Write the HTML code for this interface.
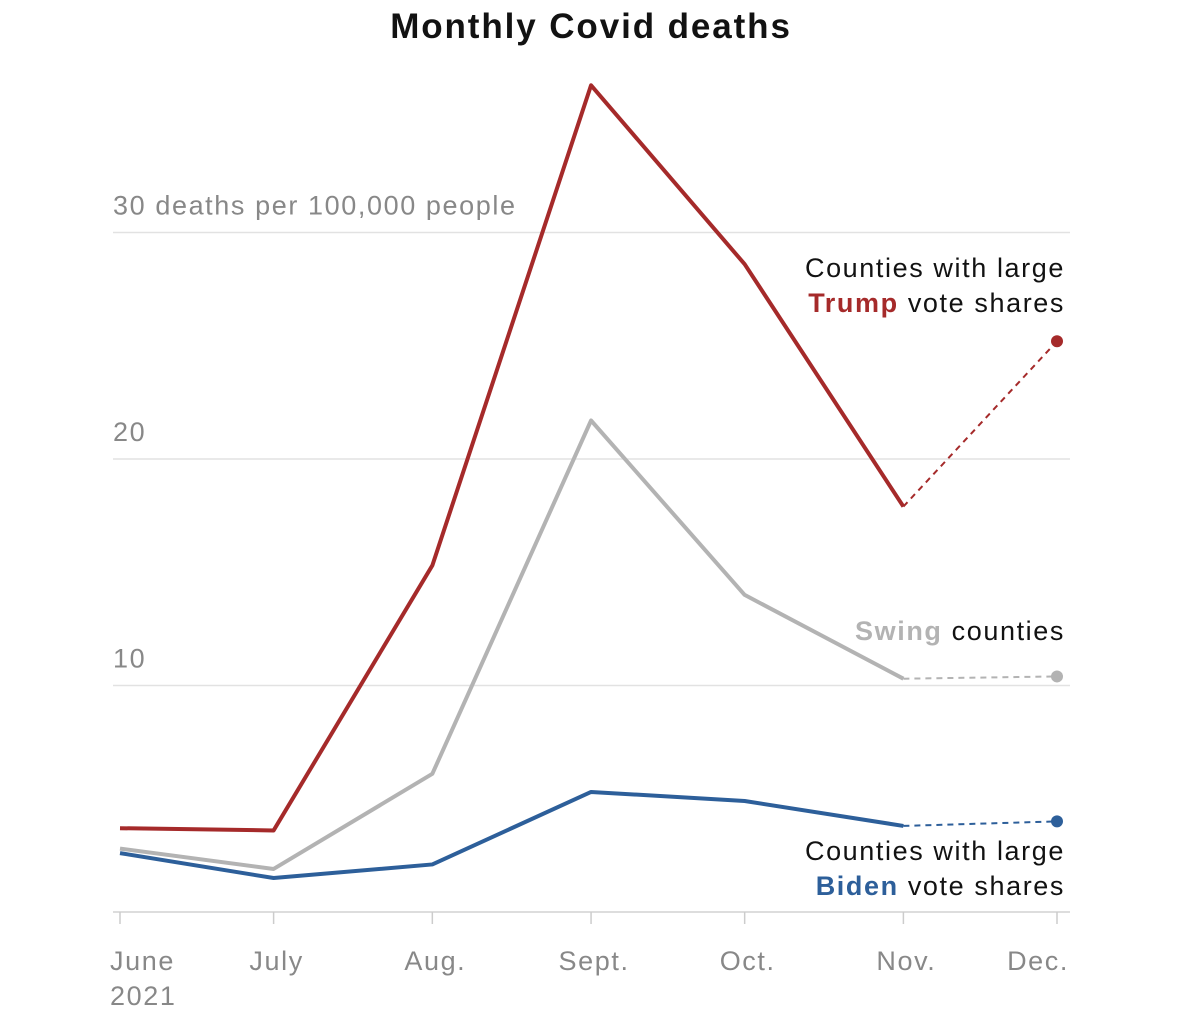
<!DOCTYPE html>
<html><head><meta charset="utf-8"><style>
body{margin:0;background:#fff;}
svg{display:block;font-family:"Liberation Sans",sans-serif;}
</style></head><body>
<svg id="chart" width="1200" height="1034">
<text x="591" y="38" text-anchor="middle" font-size="35" font-weight="bold" fill="#121212" letter-spacing="1.9">Monthly Covid deaths</text>
<g id="grid"></g><g id="lines"></g><g id="labels"></g>
</svg>
<script>
const months=["June","July","Aug.","Sept.","Oct.","Nov.","Dec."];
const monthDay=[0,30,61,92,122,153,183];
const trump=[3.7,3.6,15.3,36.5,28.6,17.9,25.2];
const swing=[2.8,1.9,6.1,21.7,14.0,10.3,10.4];
const biden=[2.6,1.5,2.1,5.3,4.9,3.8,4.0];
const yTicks=[10,20,30];
const NS="http://www.w3.org/2000/svg";
const xs=i=>120+monthDay[i]*(1057-120)/183;
const ys=v=>912-v*22.65;
const LS=1.6;
function mk(tag,attrs,parent,text){const e=document.createElementNS(NS,tag);for(const k in attrs)e.setAttribute(k,attrs[k]);if(text!==undefined)e.textContent=text;parent.appendChild(e);return e;}
const grid=document.getElementById('grid'),lines=document.getElementById('lines');
let base=mk('line',{x1:113,x2:1070,y1:ys(0),y2:ys(0),stroke:'#ddd','stroke-width':2},grid);


yTicks.forEach((t,k)=>{
 let l=mk('line',{x1:113,x2:1070,y1:ys(t),y2:ys(t),stroke:'#e2e2e2','stroke-width':1.5},grid);
 
 
 let tx=mk('text',{x:113,y:ys(t)-18,'font-size':27,fill:'#888','letter-spacing':LS},grid,k==yTicks.length-1?t+" deaths per 100,000 people":String(t));
 
 
});
months.forEach((m,i)=>{
 let tk=mk('line',{x1:xs(i),x2:xs(i),y1:ys(0),y2:ys(0)+12,stroke:'#ccc','stroke-width':1.5},grid);
 
 
 let anchor=i==0?'start':(i==6?'end':'middle');
 let x=i==0?xs(i)-10:(i==6?xs(i)+12:xs(i)+3);
 let tx=mk('text',{x:x,y:970,'font-size':27,fill:'#888','text-anchor':anchor,'letter-spacing':LS},grid,m);
 
 
});
let yr=mk('text',{x:110,y:1005,'font-size':27,fill:'#888','letter-spacing':LS},grid,"2021");


function series(vals,color,name){
 const n=vals.length;
 let d=vals.slice(0,n-1).map((v,i)=>(i?'L':'M')+xs(i)+','+ys(v)).join('');
 let p=mk('path',{d:d,fill:'none',stroke:color,'stroke-width':4,'stroke-linejoin':'round'},lines);
 
 
 let dl=mk('line',{x1:xs(n-2),y1:ys(vals[n-2]),x2:xs(n-1),y2:ys(vals[n-1]),stroke:color,'stroke-width':2,'stroke-dasharray':'6,5'},lines);
 
 
 let c=mk('circle',{cx:xs(n-1),cy:ys(vals[n-1]),r:6,fill:color},lines);
 
 
}
series(swing,'#b3b3b3','swing');
series(biden,'#2d5f9a','biden');
series(trump,'#a52a2a','trump');
const L=document.getElementById('labels');
function lab(y,parts,name){
 let t=mk('text',{x:1065,y:y,'font-size':27,fill:'#121212','text-anchor':'end','letter-spacing':LS},L);
 parts.forEach(p=>{let s=mk('tspan',p[1]?{fill:p[1],'font-weight':'bold'}:{},t,p[0]);});
 
 
}
lab(277,[["Counties with large"]],'trump-label-line1');
lab(312,[["Trump","#a52a2a"],[" vote shares"]],'trump-label-line2');
lab(640,[["Swing","#b3b3b3"],[" counties"]],'swing-label');
lab(860,[["Counties with large"]],'biden-label-line1');
lab(895,[["Biden","#2d5f9a"],[" vote shares"]],'biden-label-line2');
</script>
</body></html>
